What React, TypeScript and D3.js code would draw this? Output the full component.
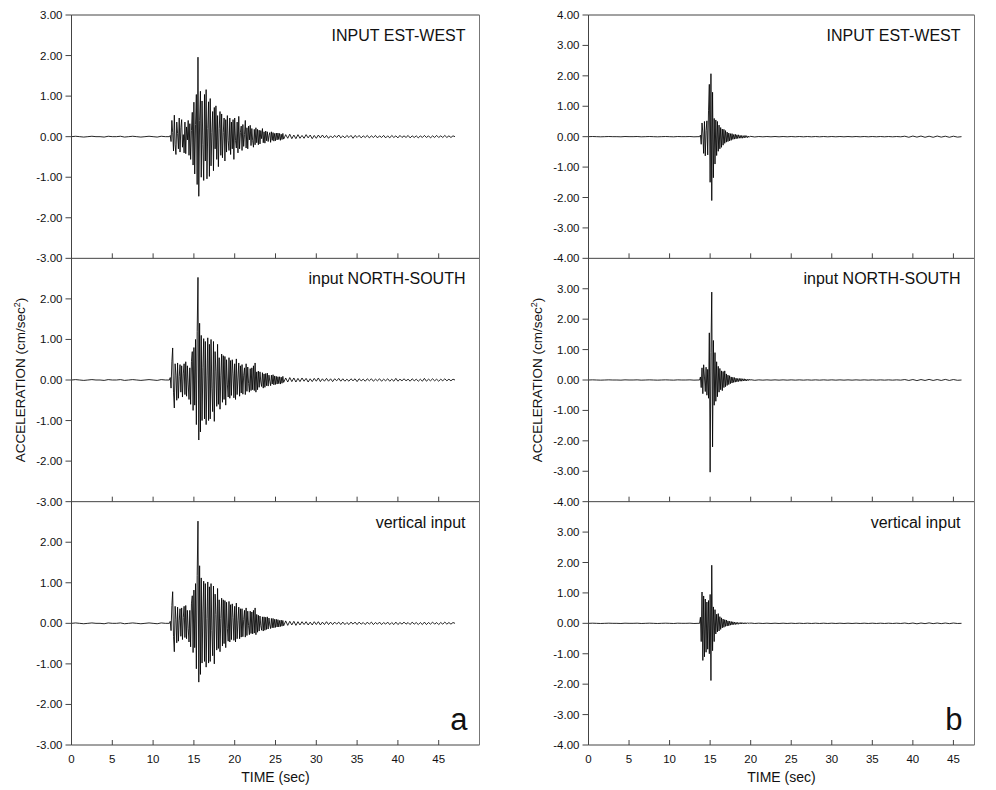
import React from "react";
import * as d3 from "d3";

// ---------- DATA (values in cm/sec^2 x 100) ----------
const xTicks = [0, 5, 10, 15, 20, 25, 30, 35, 40, 45];
const leftYTicks = [3, 2, 1, 0, -1, -2, -3];
const rightYTicks = [4, 3, 2, 1, 0, -1, -2, -3, -4];
const leftTitles = ["INPUT EST-WEST", "input NORTH-SOUTH", "vertical input"];
const rightTitles = ["INPUT EST-WEST", "input NORTH-SOUTH", "vertical input"];

// quiet pre-event noise, 0.5 s sampling
const leftPre = [0, 1, 0, -1, 0, 1, 0, 0, -1, 1, 0, 0, 1, -1, 0, 1, 0, -1, 0, 1, 0, -1, 1, 0];
const rightPre = [0, 0.5, 0, -0.5, 0, 0.5, 0, 0, -0.5, 0.5, 0, 0, 0.5, -0.5, 0, 0.5, 0, -0.5, 0, 0.5, 0, -0.5, 0.5, 0, 0, 0.5, -0.5, 0];

// left column, strong motion from 12.0 s, 0.1 s sampling
const leftEW = [
  0, 3, -12, 40, 10, -35, 53, -20, -44, 36,
  8, -30, 46, -38, 22, 42, -26, 5, -40, 36,
  -42, 24, -8, 40, -46, 32, -56, 15, 60, -70,
  85, -92, 30, 104, -118, 196, -147, 40, 112, -100,
  88, -20, -108, 104, -60, 116, -104, 20, 86, -98,
  94, -72, 10, 62, -84, 72, -30, 76, -56, 52,
  -74, 20, 62, -46, 56, -52, 10, 46, -60, 42,
  -38, 52, -10, -34, 46, -44, 36, -30, 42, -56,
  46, -10, -28, 36, -40, 50, -30, 10, 26, -34,
  30, -24, 5, 40, -28, 22, -30, 26, -8, 28,
  -22, 20, -10, -26, 18, -20, 22, -15, 18, -20,
  16, -18, 15, -5, 20, -15, 12, -16, 14, -10,
  12, -12, 3, 10, -14, 12, -9, 10, -11, 8,
  -10, 9, -8, 9, -7, 8, -9, 6, -7, 8,
];
const leftNS = [
  0, 6, -20, 45, 79, -30, -69, 40, 12, -50,
  42, -45, 8, 38, -30, 35, -42, 15, 40, -36,
  45, -40, 35, -10, -48, 30, -60, 45, 70, -75,
  80, -62, 100, -110, 120, 253, -148, 140, -128, 110,
  -100, 30, 102, -96, 95, -110, 10, 104, -100, 88,
  -96, 100, -20, -78, 95, -102, 70, 20, -65, 88,
  -60, 55, -72, 10, 64, -55, 60, -48, 58, -62,
  50, -10, -42, 55, -45, 48, -38, 50, 15, -44,
  40, -48, 52, -36, 5, 42, -40, 35, -32, 38,
  -35, 12, 30, -36, 40, -28, 32, -8, -30, 28,
  -26, 30, -24, 35, -26, 42, -30, 20, -24, 22,
  -18, 20, -5, -16, 18, -20, 15, -18, 16, -14,
  17, -15, 12, -3, -14, 12, -10, 13, -12, 10,
  -11, 9, -10, 8, -9, 8, -10, 7, -8, 9,
];
const leftUD = [
  0, 5, -18, 44, 78, -32, -70, 42, 10, -48,
  40, -44, 6, 36, -32, 38, -40, 14, 42, -35,
  44, -38, 32, -12, -46, 32, -58, 48, 68, -72,
  82, -60, 98, -112, 118, 252, -145, 142, -126, 112,
  -98, 28, 104, -94, 98, -108, 12, 102, -98, 90,
  -94, 98, -18, -80, 92, -100, 72, 22, -66, 86,
  -62, 58, -70, 12, 62, -56, 58, -50, 56, -60,
  52, -12, -44, 54, -46, 46, -40, 48, 14, -42,
  42, -46, 50, -38, 6, 40, -38, 36, -34, 36,
  -33, 10, 32, -34, 38, -30, 30, -6, -28, 30,
  -25, 28, -26, 32, -24, 38, -28, 22, -22, 20,
  -19, 18, -6, -17, 16, -19, 16, -17, 15, -15,
  16, -14, 13, -4, -13, 12, -11, 12, -11, 10,
  -10, 10, -9, 9, -9, 7, -8, 8, -7, 7,
];
// left column coda from 26 s, 0.25 s sampling
const leftEWTail = [
  -6, 5, -4, 6, -5, 4, -5, 5, -4, 3,
  -4, 5, -3, 4, -5, 3, -4, 4, -3, 4,
  -3, 3, -4, 2, -3, 3, -2, 4, -3, 2,
  -3, 3, -2, 3, -4, 3, -2, 3, -3, 2,
  -2, 3, -3, 2, -2, 3, -3, 2, -2, 3,
  -3, 2, -3, 3, -2, 2, -3, 3, -2, 2,
  -2, 3, -3, 2, -2, 2, -3, 2, -2, 3,
  -2, 2, -3, 2, -2, 3, -2, 2, -2, 3,
  -2, 2, -2, 2, 0,
];
const leftNSTail = [
  -6, 5, -5, 6, -4, 5, -5, 4, -4, 5,
  -3, 4, -5, 3, -4, 4, -3, 5, -4, 3,
  -3, 4, -3, 3, -4, 3, -2, 4, -3, 3,
  -3, 2, -3, 3, -2, 3, -4, 3, -2, 2,
  -3, 3, -2, 3, -3, 2, -2, 3, -3, 2,
  -2, 3, -3, 2, -3, 4, -3, 2, -2, 3,
  -2, 2, -3, 3, -2, 2, -3, 2, -3, 4,
  -3, 2, -2, 3, -2, 2, -3, 2, -2, 3,
  -2, 2, -2, 2, 0,
];
const leftUDTail = [
  -6, 6, -5, 5, -4, 5, -5, 4, -4, 4,
  -3, 4, -4, 3, -4, 4, -3, 4, -4, 3,
  -3, 4, -3, 3, -3, 3, -2, 3, -3, 3,
  -3, 2, -3, 3, -2, 3, -3, 3, -2, 2,
  -3, 3, -2, 3, -3, 2, -2, 3, -3, 2,
  -2, 3, -3, 2, -3, 3, -3, 2, -2, 3,
  -2, 2, -3, 3, -2, 2, -3, 2, -3, 3,
  -3, 2, -2, 3, -2, 2, -3, 2, -2, 3,
  -2, 2, -2, 2, 0,
];

// right column, strong motion from 13.7 s, 0.1 s sampling
const rightEW = [
  0, 5, -25, 45, 12, -55, 50, -63, 20, 52,
  -60, 85, 172, -150, 207, -210, 146, -135, 60, -90,
  55, -62, 50, -48, 38, -40, 30, -35, 25, -28,
  24, -22, 20, -18, 15, -16, 12, -14, 10, -12,
  10, -9, 7, -8, 8, -7, 6, -6, 6, -5,
  4, -5, 4, -5, 3, -4, 4, -3, 3, -3,
  2, -2, 1,
];
const rightNS = [
  0, 10, -25, 40, -45, 50, 10, -38, 42, -50,
  35, -60, 155, -303, 90, 289, -220, 130, -83, 90,
  -70, 60, -55, 45, -40, 38, -32, 30, -35, 28,
  -25, 30, -22, 20, -18, 16, -15, 14, -12, 10,
  -10, 9, -8, 8, -7, 6, -6, 5, -5, 5,
  -4, 5, -4, 4, -3, 4, -3, 3, -3, 2,
  -2, 3, -1,
];
const rightUD = [
  0, 20, -60, 103, -122, 90, -110, 80, -95, 70,
  -85, 75, -100, 95, -188, 191, -90, 54, -60, 45,
  -35, 30, -28, 32, -25, 22, -20, 18, -15, 14,
  -13, 12, -10, 11, -9, 8, -8, 7, -6, 6,
  -5, 5, -4, 4, -4, 3, -3, 3, -3, 2,
  -2, 3, -2, 2, -2, 2, -2, 2, -1, 2,
  -1, 2, -1,
];
// right column coda from 20 s, 0.5 s sampling
const rightEWTail = [
  1, -1, 0.5, -0.5, 0.5, -0.5, 0.5, -0.5, 0.5, -0.5,
  0.5, -0.5, 0.5, -0.5, 0.5, -0.5, 0.5, -0.5, 0.5, -0.5,
  0.5, -0.5, 0.5, -0.5, 0.5, -0.5, 0.5, -0.5, 0.5, -0.5,
  0.5, -0.5, 0.5, -0.5, 0.5, -0.5, 0.5, -0.5, 1.5, -2,
  2, -1.5, 2, -2, 1.5, -2, 2, -1.5, 1.5, -2,
  1.5, -1.5, 0,
];
const rightNSTail = [
  1, -1, 0.5, -0.5, 0.5, -0.5, 0.5, -0.5, 0.5, -0.5,
  0.5, -0.5, 0.5, -0.5, 0.5, -0.5, 0.5, -0.5, 0.5, -0.5,
  0.5, -0.5, 0.5, -0.5, 0.5, -0.5, 0.5, -0.5, 0.5, -0.5,
  0.5, -0.5, 0.5, -0.5, 0.5, -0.5, 0.5, -0.5, 1.5, -1.5,
  1.5, -2, 1.5, -1.5, 2, -1.5, 1.5, -1.5, 2, -1.5,
  1.5, -1, 0,
];
const rightUDTail = [
  1, -0.5, 0.5, -0.5, 0.5, -0.5, 0.5, -0.5, 0.5, -0.5,
  0.5, -0.5, 0.5, -0.5, 0.5, -0.5, 0.5, -0.5, 0.5, -0.5,
  0.5, -0.5, 0.5, -0.5, 0.5, -0.5, 0.5, -0.5, 0.5, -0.5,
  0.5, -0.5, 0.5, -0.5, 0.5, -0.5, 0.5, -0.5, 1, -1,
  1, -1.5, 1, -1, 1.5, -1, 1, -1, 1, -1,
  1, -0.5, 0,
];

type Seg = { start: number; step: number; values: number[] };

const leftSeries: Seg[][] = [
  [{ start: 0, step: 0.5, values: leftPre }, { start: 12.0, step: 0.1, values: leftEW }, { start: 26.0, step: 0.25, values: leftEWTail }],
  [{ start: 0, step: 0.5, values: leftPre }, { start: 12.0, step: 0.1, values: leftNS }, { start: 26.0, step: 0.25, values: leftNSTail }],
  [{ start: 0, step: 0.5, values: leftPre }, { start: 12.0, step: 0.1, values: leftUD }, { start: 26.0, step: 0.25, values: leftUDTail }],
];
const rightSeries: Seg[][] = [
  [{ start: 0, step: 0.5, values: rightPre }, { start: 13.7, step: 0.1, values: rightEW }, { start: 20.0, step: 0.5, values: rightEWTail }],
  [{ start: 0, step: 0.5, values: rightPre }, { start: 13.7, step: 0.1, values: rightNS }, { start: 20.0, step: 0.5, values: rightNSTail }],
  [{ start: 0, step: 0.5, values: rightPre }, { start: 13.7, step: 0.1, values: rightUD }, { start: 20.0, step: 0.5, values: rightUDTail }],
];

function toPoints(segs: Seg[]): [number, number][] {
  const pts: [number, number][] = [];
  segs.forEach((s) => s.values.forEach((v, i) => pts.push([s.start + s.step * i, v / 100])));
  return pts;
}

const fmt = d3.formatLocale({ decimal: ".", thousands: ",", grouping: [3], currency: ["", ""], minus: "-" }).format(".2f");

const FONT = "'Liberation Sans', Arial, sans-serif";
const AXIS = "#444";

type ColCfg = {
  x0: number; x1: number; xMax: number; yMax: number; yTicks: number[];
  series: Seg[][]; titles: string[]; letter: string;
};

const PANEL_TOP = 15;
const PANEL_BOTTOM = 745;

function Column({ cfg }: { cfg: ColCfg }) {
  const x = d3.scaleLinear().domain([0, cfg.xMax]).range([cfg.x0, cfg.x1]);
  const ph = (PANEL_BOTTOM - PANEL_TOP) / 3;
  const els: React.ReactNode[] = [];
  cfg.series.forEach((segs, p) => {
    const top = PANEL_TOP + p * ph;
    const bot = top + ph;
    const y = d3.scaleLinear().domain([-cfg.yMax, cfg.yMax]).range([bot, top]);
    const line = d3.line<[number, number]>().x((d) => x(d[0])).y((d) => y(d[1]));
    const pts = toPoints(segs);
    els.push(<path key={"tr" + p} d={line(pts) || ""} fill="none" stroke="#000" strokeWidth={0.85} strokeLinejoin="miter" />);
    cfg.yTicks.forEach((t) => {
      if (p > 0 && t === cfg.yMax) return;
      els.push(<line key={`yt${p}_${t}`} x1={cfg.x0 - 6} x2={cfg.x0} y1={y(t)} y2={y(t)} stroke={AXIS} strokeWidth={1} />);
      els.push(
        <text key={`yl${p}_${t}`} x={cfg.x0 - 9} y={y(t) + 4} textAnchor="end" fontSize={11.5} fontFamily={FONT} fill="#111">
          {fmt(t)}
        </text>
      );
    });
    els.push(<line key={"bl" + p} x1={cfg.x0} x2={cfg.x1} y1={bot} y2={bot} stroke={AXIS} strokeWidth={1} />);
    xTicks.forEach((t) => {
      els.push(<line key={`xt${p}_${t}`} x1={x(t)} x2={x(t)} y1={bot} y2={bot - 5} stroke={AXIS} strokeWidth={1} />);
    });
    els.push(
      <text key={"ti" + p} x={cfg.x1 - 14} y={top + 26} textAnchor="end" fontSize={16} fontFamily={FONT} fill="#111">
        {cfg.titles[p]}
      </text>
    );
  });
  els.push(<line key="top" x1={cfg.x0} x2={cfg.x1} y1={PANEL_TOP} y2={PANEL_TOP} stroke={AXIS} strokeWidth={1} />);
  els.push(<line key="left" x1={cfg.x0} x2={cfg.x0} y1={PANEL_TOP} y2={PANEL_BOTTOM} stroke={AXIS} strokeWidth={1} />);
  els.push(<line key="right" x1={cfg.x1} x2={cfg.x1} y1={PANEL_TOP} y2={PANEL_BOTTOM} stroke="#777" strokeWidth={1} />);
  xTicks.forEach((t) => {
    els.push(
      <text key={"xl" + t} x={x(t)} y={763} textAnchor="middle" fontSize={11.5} fontFamily={FONT} fill="#111">
        {t}
      </text>
    );
  });
  els.push(
    <text key="xlab" x={(cfg.x0 + cfg.x1) / 2} y={782} textAnchor="middle" fontSize={14} fontFamily={FONT} fill="#111">
      TIME (sec)
    </text>
  );
  const ly = (PANEL_TOP + PANEL_BOTTOM) / 2;
  const lx = cfg.x0 - 47;
  els.push(
    <text key="ylab" transform={`translate(${lx},${ly}) rotate(-90)`} textAnchor="middle" fontSize={13.5} fontFamily={FONT} fill="#111">
      ACCELERATION (cm/sec<tspan fontSize={9} dy={-5}>2</tspan><tspan dy={5}>)</tspan>
    </text>
  );
  els.push(
    <text key="letter" x={cfg.x1 - 12} y={730} textAnchor="end" fontSize={31} fontFamily={FONT} fill="#111">
      {cfg.letter}
    </text>
  );
  return <g>{els}</g>;
}

const leftCfg: ColCfg = {
  x0: 71.5, x1: 479.5, xMax: 50, yMax: 3, yTicks: leftYTicks,
  series: leftSeries, titles: leftTitles, letter: "a",
};
const rightCfg: ColCfg = {
  x0: 588.5, x1: 974.5, xMax: 47.6, yMax: 4, yTicks: rightYTicks,
  series: rightSeries, titles: rightTitles, letter: "b",
};

export default function App() {
  return (
    <svg width={996} height={790} style={{ position: "absolute", left: 0, top: 0, background: "#fff" }}>
      <rect width={996} height={790} fill="#fff" />
      <Column cfg={leftCfg} />
      <Column cfg={rightCfg} />
    </svg>
  );
}
